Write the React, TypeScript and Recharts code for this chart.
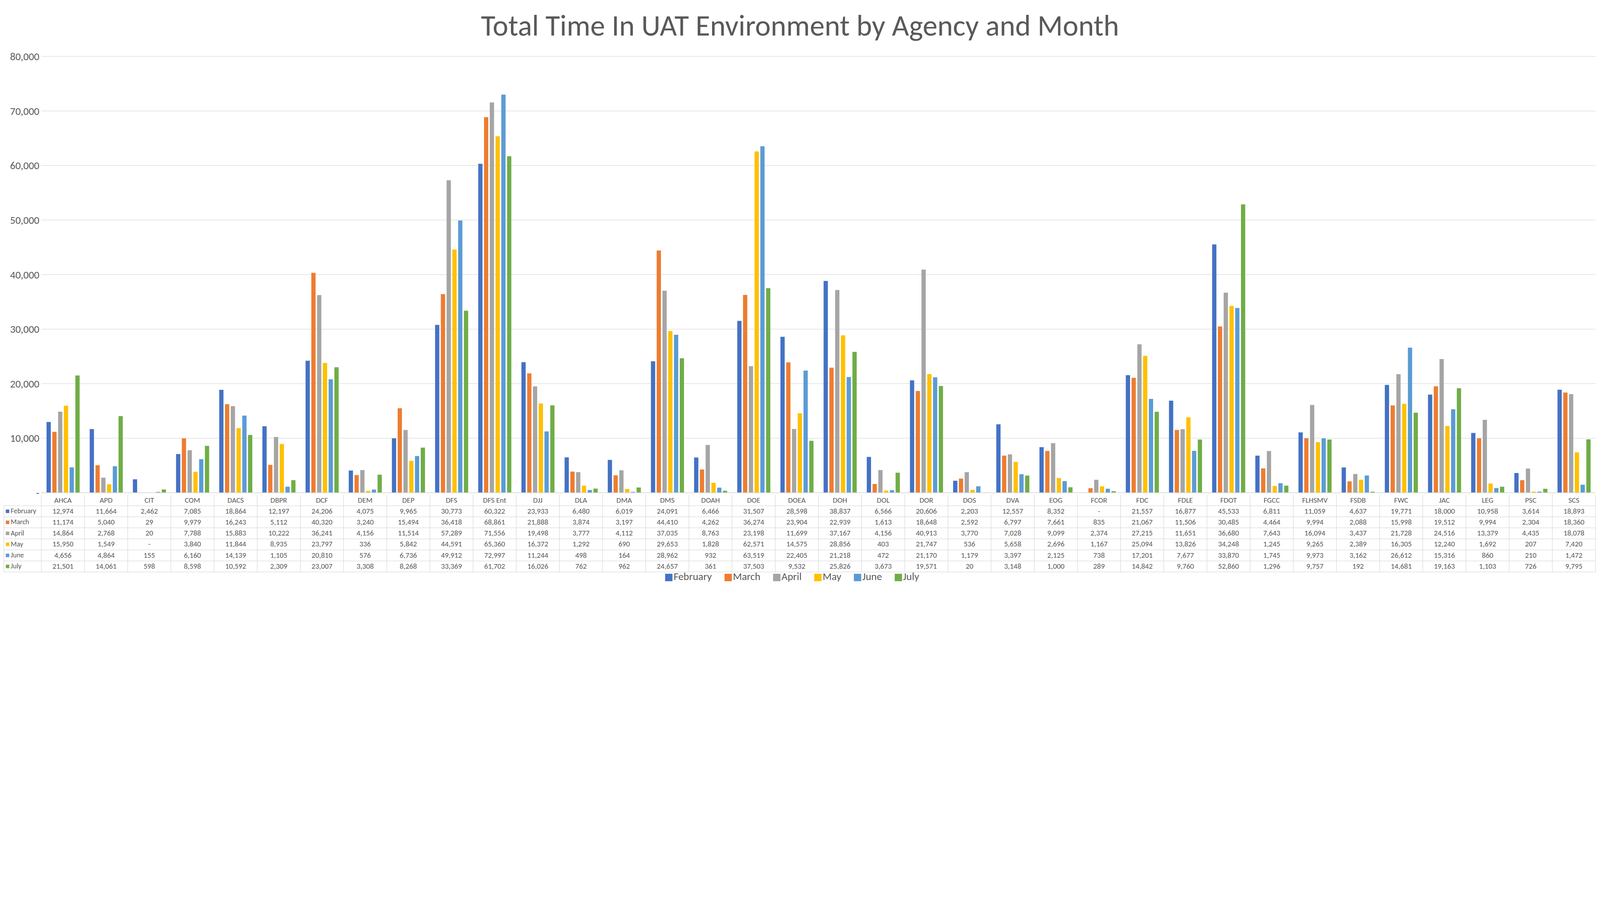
import React from 'react';
import { BarChart, Bar, XAxis, YAxis, CartesianGrid, Legend } from 'recharts';

const categories = ['AHCA','APD','CIT','COM','DACS','DBPR','DCF','DEM','DEP','DFS','DFS Ent','DJJ','DLA','DMA','DMS','DOAH','DOE','DOEA','DOH','DOL','DOR','DOS','DVA','EOG','FCOR','FDC','FDLE','FDOT','FGCC','FLHSMV','FSDB','FWC','JAC','LEG','PSC','SCS'];
const february = [12974,11664,2462,7085,18864,12197,24206,4075,9965,30773,60322,23933,6480,6019,24091,6466,31507,28598,38837,6566,20606,2203,12557,8352,null,21557,16877,45533,6811,11059,4637,19771,18000,10958,3614,18893];
const march = [11174,5040,29,9979,16243,5112,40320,3240,15494,36418,68861,21888,3874,3197,44410,4262,36274,23904,22939,1613,18648,2592,6797,7661,835,21067,11506,30485,4464,9994,2088,15998,19512,9994,2304,18360];
const april = [14864,2768,20,7788,15883,10222,36241,4156,11514,57289,71556,19498,3777,4112,37035,8763,23198,11699,37167,4156,40913,3770,7028,9099,2374,27215,11651,36680,7643,16094,3437,21728,24516,13379,4435,18078];
const may = [15950,1549,null,3840,11844,8935,23797,336,5842,44591,65360,16372,1292,690,29653,1828,62571,14575,28856,403,21747,536,5658,2696,1167,25094,13826,34248,1245,9265,2389,16305,12240,1692,207,7420];
const june = [4656,4864,155,6160,14139,1105,20810,576,6736,49912,72997,11244,498,164,28962,932,63519,22405,21218,472,21170,1179,3397,2125,738,17201,7677,33870,1745,9973,3162,26612,15316,860,210,1472];
const july = [21501,14061,598,8598,10592,2309,23007,3308,8268,33369,61702,16026,762,962,24657,361,37503,9532,25826,3673,19571,20,3148,1000,289,14842,9760,52860,1296,9757,192,14681,19163,1103,726,9795];
const yTicks = [0,10000,20000,30000,40000,50000,60000,70000,80000];

const series = [
  { key: 'February', data: february, color: '#4472C4' },
  { key: 'March', data: march, color: '#ED7D31' },
  { key: 'April', data: april, color: '#A5A5A5' },
  { key: 'May', data: may, color: '#FFC000' },
  { key: 'June', data: june, color: '#5B9BD5' },
  { key: 'July', data: july, color: '#70AD47' },
];
const order = series.map(s => s.key);

const rows = categories.map((c, i) => {
  const r: any = { name: c };
  series.forEach(s => { r[s.key] = s.data[i]; });
  return r;
});

const PW = 6383, PH = 2340;
const W = 6370, H = 2330;
const M = { top: 220, right: 10, left: 0, bottom: 0 };
const YW = 160;
const BAND = (W - M.left - M.right - YW) / categories.length;
const ROW = 44;
const FONT = 'Calibri, Carlito, Lato, "Liberation Sans", Arial, sans-serif';

const fmt = (v: any) => (v == null ? '-' : Number(v).toLocaleString('en-US'));

const Tick = (props: any) => {
  const { x, y, payload, index } = props;
  const i = index;
  const left = x - BAND / 2;
  const top = y;
  const lines: any[] = [];
  const total = ROW * 7;
  lines.push(<line key="l" x1={left} x2={left} y1={top} y2={top + total} stroke="#D9D9D9" strokeWidth={2} />);
  if (i === categories.length - 1) lines.push(<line key="r" x1={left + BAND} x2={left + BAND} y1={top} y2={top + total} stroke="#D9D9D9" strokeWidth={2} />);
  for (let r = 1; r <= 7; r++) lines.push(<line key={'h' + r} x1={left} x2={left + BAND} y1={top + r * ROW} y2={top + r * ROW} stroke="#D9D9D9" strokeWidth={2} />);
  const header: any[] = [];
  if (i === 0) {
    const hl = left - 150;
    header.push(<line key="hl" x1={hl} x2={hl} y1={top + ROW} y2={top + total} stroke="#D9D9D9" strokeWidth={2} />);
    for (let r = 1; r <= 7; r++) header.push(<line key={'hh' + r} x1={hl} x2={left} y1={top + r * ROW} y2={top + r * ROW} stroke="#D9D9D9" strokeWidth={2} />);
    series.forEach((s, k) => {
      header.push(<rect key={'sq' + k} x={hl + 8} y={top + (k + 1) * ROW + 15} width={14} height={14} fill={s.color} />);
      header.push(<text key={'sn' + k} x={hl + 28} y={top + (k + 1) * ROW + 30} fontSize={28} fill="#595959" fontFamily={FONT}>{s.key}</text>);
    });
  }
  return (
    <g>
      {lines}
      {header}
      <text x={x} y={top + 32} textAnchor="middle" fontSize={30} fill="#595959" fontFamily={FONT}>{payload.value}</text>
      {series.map((s, k) => (
        <text key={k} x={x} y={top + (k + 1) * ROW + 31} textAnchor="middle" fontSize={30} fill="#595959" fontFamily={FONT}>{fmt(s.data[i])}</text>
      ))}
    </g>
  );
};

export default function App() {
  const vw = typeof window !== 'undefined' ? window.innerWidth : PW;
  const k = Math.min(1, vw / PW);
  return (
    <div style={{ position: 'fixed', top: 0, left: 0, width: PW * k, height: PH * k, overflow: 'hidden', background: '#fff' }}>
      <div style={{ position: 'relative', width: PW, height: PH, transform: `scale(${k})`, transformOrigin: '0 0', background: '#fff' }}>
        <div style={{ position: 'absolute', top: 30, left: 0, width: PW, textAlign: 'center', fontFamily: FONT, fontSize: 118, color: '#595959' }}>
          Total Time In UAT Environment by Agency and Month
        </div>
        <div style={{ position: 'absolute', top: 5, left: 5 }}>
          <BarChart width={W} height={H} data={rows} margin={M} barCategoryGap="12%" barGap={6}>
            <CartesianGrid vertical={false} stroke="#D9D9D9" strokeWidth={2} />
            <XAxis dataKey="name" interval={0} height={330} tick={<Tick />} tickLine={false} axisLine={{ stroke: '#D9D9D9', strokeWidth: 2 }} />
            <YAxis width={YW} domain={[0, 80000]} ticks={yTicks} tickFormatter={(v: number) => (v === 0 ? '-' : v.toLocaleString('en-US'))} tick={{ fontSize: 42, fill: '#595959', fontFamily: FONT }} axisLine={false} tickLine={false} />
            {series.map(s => (
              <Bar key={s.key} dataKey={s.key} fill={s.color} isAnimationActive={false} />
            ))}
            <Legend verticalAlign="bottom" iconType="square" iconSize={30}
              itemSorter={(item: any) => order.indexOf(item.value)}
              wrapperStyle={{ fontFamily: FONT, fontSize: 42, color: '#595959', paddingBottom: 10 }}
              formatter={(v: any) => <span style={{ color: '#595959', marginRight: 40 }}>{v}</span>} />
          </BarChart>
        </div>
      </div>
    </div>
  );
}
